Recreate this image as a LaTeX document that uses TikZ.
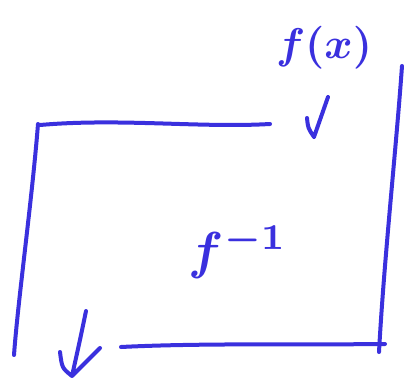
\documentclass[tikz,border=0pt]{standalone}
\usepackage{graphicx}
\usetikzlibrary{arrows.meta}
\definecolor{ink}{RGB}{58,48,222}
\begin{document}
\begin{tikzpicture}[x=1pt,y=-1pt,
  pen/.style={draw=ink,line width=4pt,line cap=round,line join=round},
  lbl/.style={text=ink,inner sep=0pt}]
\useasboundingbox[fill=white] (0,0) rectangle (404,385);
% frame strokes
\draw[pen] (40,125) .. controls (120,118) and (200,128) .. (270,124);
\draw[pen] (38,124) .. controls (32,200) and (18,300) .. (14,355);
\draw[pen] (402,66) .. controls (396,150) and (384,260) .. (379,352);
\draw[pen] (121,347) .. controls (200,343) and (300,345) .. (385,344);
% arrows
\draw[pen] (328,97) -- (314,137) (307,118) .. controls (308,128) .. (314,137);
\draw[pen] (86,311) .. controls (80,340) .. (72,376) (60,352) .. controls (62,368) .. (72,376) -- (100,348);
% labels
\node[lbl] (fx) at (324,48) {\scalebox{4.3}{\boldmath$f(x)$}};
\node[lbl] (finv) at (238,252) {\scalebox{5.2}{\boldmath$f^{-1}$}};
\end{tikzpicture}
\end{document}
